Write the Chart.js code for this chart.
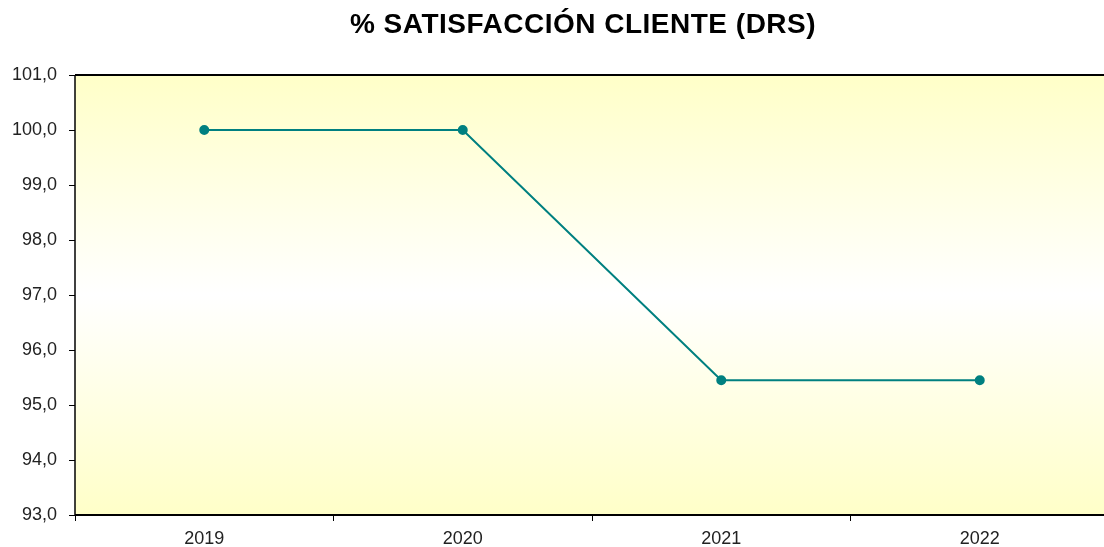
<!DOCTYPE html>
<html>
<head>
<meta charset="utf-8">
<script src="https://cdn.jsdelivr.net/npm/chart.js@4"></script>
<style>
  html, body { margin: 0; padding: 0; background: #fff; overflow: hidden; }
  #wrap { width: 1166px; height: 547px; }
</style>
</head>
<body>
<div id="wrap"><canvas id="satisfactionChart"></canvas></div>
<script>
const years = ["2019", "2020", "2021", "2022"];
const satisfaction = [100, 100, 95.45, 95.45];
const yMin = 93;
const yMax = 101;
const chartTitle = "% SATISFACCIÓN CLIENTE (DRS)";

// yellow - white - yellow background behind the plot, frame and title
const plotBackground = {
  id: "plotBackground",
  beforeDraw(chart) {
    const { ctx, chartArea: a } = chart;
    const g = ctx.createLinearGradient(0, a.top, 0, a.bottom);
    g.addColorStop(0, "#ffffc8");
    g.addColorStop(0.5, "#ffffff");
    g.addColorStop(1, "#ffffc8");
    ctx.save();
    ctx.fillStyle = g;
    ctx.fillRect(a.left, a.top, a.right - a.left, a.bottom - a.top);
    ctx.restore();
  },
  afterDatasetsDraw(chart) {
    const { ctx, chartArea: a } = chart;
    ctx.save();
    ctx.strokeStyle = "#000";
    ctx.lineWidth = 2;
    ctx.beginPath();
    ctx.moveTo(a.left, a.top);
    ctx.lineTo(a.right, a.top);
    ctx.moveTo(a.left, a.bottom);
    ctx.lineTo(a.right, a.bottom);
    ctx.stroke();
    ctx.lineWidth = 1.5;
    ctx.beginPath();
    ctx.moveTo(a.left, a.top);
    ctx.lineTo(a.left, a.bottom);
    ctx.stroke();

    ctx.fillStyle = "#000";
    ctx.font = "bold 28px 'Liberation Sans', Arial";
    ctx.letterSpacing = "0.5px";
    ctx.textAlign = "center";
    ctx.textBaseline = "middle";
    ctx.fillText(chartTitle, chart.width / 2, 25);
    ctx.restore();
  }
};

const ctx = document.getElementById("satisfactionChart").getContext("2d");
new Chart(ctx, {
  type: "line",
  data: {
    labels: years,
    datasets: [{
      data: satisfaction,
      borderColor: "#008080",
      backgroundColor: "#008080",
      borderWidth: 2,
      pointRadius: 4,
      pointHoverRadius: 4,
      tension: 0
    }]
  },
  plugins: [plotBackground],
  options: {
    responsive: true,
    maintainAspectRatio: false,
    animation: false,
    layout: { padding: { left: 0, right: 57, top: 75, bottom: 0 } },
    plugins: {
      legend: { display: false },
      tooltip: { enabled: false },
      title: { display: false }
    },
    scales: {
      x: {
        offset: true,
        grid: { offset: true, drawOnChartArea: false, color: "#000", tickLength: 6 },
        border: { display: false },
        ticks: {
          color: "#222",
          padding: 7,
          font: { family: "Liberation Sans, Arial", size: 18 }
        },
        afterFit(scale) { scale.height = 32; }
      },
      y: {
        min: yMin,
        max: yMax,
        grid: { drawOnChartArea: false, color: "#000", tickLength: 6 },
        border: { display: false },
        ticks: {
          stepSize: 1,
          color: "#222",
          padding: 12,
          font: { family: "Liberation Sans, Arial", size: 18 },
          callback: v => v.toFixed(1).replace(".", ",")
        },
        afterFit(scale) { scale.width = 75; }
      }
    }
  }
});
</script>
</body>
</html>
